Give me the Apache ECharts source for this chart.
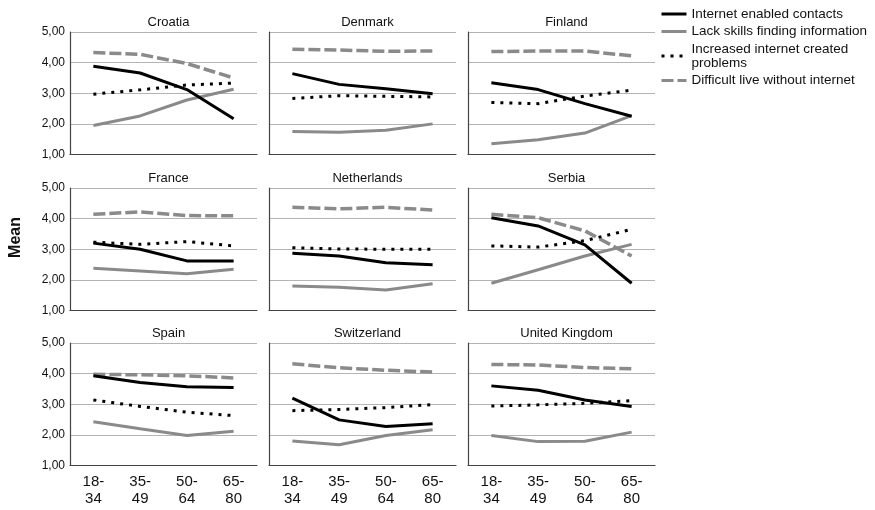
<!DOCTYPE html>
<html>
<head>
<meta charset="utf-8">
<script src="https://cdn.jsdelivr.net/npm/echarts@6/dist/echarts.min.js"></script>
<style>html,body{margin:0;padding:0;background:#fff}#c{width:875px;height:510px}</style>
</head>
<body>
<div id="c"></div>
<script>
const countries = ['Croatia','Denmark','Finland','France','Netherlands','Serbia','Spain','Switzerland','United Kingdom'];
const ageGroups = ['18-\n34','35-\n49','50-\n64','65-\n80'];
const yTicks = [1,2,3,4,5];
const seriesNames = ['Internet enabled contacts','Lack skills finding information','Increased internet created\nproblems','Difficult live without internet'];

// values per country (order as countries), per age group
const contacts = [
  [3.88,3.66,3.12,2.17],
  [3.64,3.29,3.15,2.98],
  [3.34,3.12,2.66,2.25],
  [3.20,3.00,2.62,2.62],
  [2.87,2.78,2.56,2.49],
  [4.03,3.76,3.14,1.89],
  [3.93,3.71,3.57,3.55],
  [3.20,2.49,2.27,2.36],
  [3.60,3.46,3.14,2.93]
];
const lackSkills = [
  [1.95,2.26,2.78,3.13],
  [1.75,1.73,1.79,2.00],
  [1.35,1.48,1.70,2.27],
  [2.38,2.29,2.20,2.35],
  [1.80,1.76,1.67,1.87],
  [1.89,2.33,2.78,3.16],
  [2.43,2.20,1.98,2.12],
  [1.80,1.68,1.98,2.17],
  [1.98,1.78,1.79,2.09]
];
const problems = [
  [2.97,3.11,3.27,3.33],
  [2.83,2.92,2.90,2.88],
  [2.70,2.66,2.91,3.10],
  [3.23,3.16,3.25,3.11],
  [3.05,3.01,3.00,3.00],
  [3.11,3.07,3.28,3.65],
  [3.14,2.93,2.74,2.63],
  [2.79,2.83,2.89,2.99],
  [2.94,2.98,3.03,3.12]
];
const difficult = [
  [4.33,4.27,3.97,3.50],
  [4.44,4.41,4.37,4.38],
  [4.36,4.38,4.38,4.22],
  [4.14,4.22,4.10,4.09],
  [4.37,4.32,4.37,4.28],
  [4.14,4.03,3.60,2.78],
  [3.98,3.96,3.93,3.86],
  [4.32,4.19,4.11,4.05],
  [4.30,4.28,4.20,4.16]
];

const FONT = "'Liberation Sans', Arial, sans-serif";
const colLeft = [70,269,468];
const rowTop = [32,188,343];
const W = 187, H = 122.5;
const BLACK = '#000000', GRAY = '#8a8a8a';

const styles = [
  {color:BLACK, width:3, type:'solid'},
  {color:GRAY, width:3, type:'solid'},
  {color:BLACK, width:3, type:[3,6]},
  {color:GRAY, width:3.5, type:[12,4]}
];
const dataSets = [contacts, lackSkills, problems, difficult];

const grids=[], xAxes=[], yAxes=[], titles=[], series=[];
countries.forEach((name,i)=>{
  const r = Math.floor(i/3), c = i%3;
  grids.push({left:colLeft[c], top:rowTop[r], width:W, height:H});
  titles.push({text:name, left:colLeft[c]+W/2, textAlign:'center', top:rowTop[r]-21,
    textStyle:{fontFamily:FONT, fontSize:13, fontWeight:'normal', color:'#111'}});
  xAxes.push({type:'category', gridIndex:i, data:ageGroups, boundaryGap:true,
    axisLine:{show:true, lineStyle:{color:'#444', width:1.2}},
    axisTick:{show:false},
    axisLabel:{show:r===2, fontFamily:FONT, fontSize:15, lineHeight:17, color:'#111', margin:8},
    splitLine:{show:false}});
  yAxes.push({type:'value', gridIndex:i, min:yTicks[0], max:yTicks[yTicks.length-1], interval:1,
    axisLine:{show:true, lineStyle:{color:'#444', width:1.2}},
    axisTick:{show:false},
    axisLabel:{show:c===0, fontFamily:FONT, fontSize:12, color:'#111', margin:5,
      formatter:v=>v.toFixed(2).replace('.',',')},
    splitLine:{show:true, lineStyle:{color:'#b4b4b4', width:1}}});
  dataSets.forEach((ds,k)=>{
    series.push({type:'line', name:seriesNames[k], xAxisIndex:i, yAxisIndex:i,
      data:ds[i], symbol:'none', smooth:false, silent:true, animation:false,
      lineStyle:{color:styles[k].color, width:styles[k].width, type:styles[k].type, cap:'butt'},
      itemStyle:{color:styles[k].color}, z:10-k});
  });
});

const chart = echarts.init(document.getElementById('c'), null, {renderer:'canvas'});
chart.setOption({
  animation:false,
  backgroundColor:'#fff',
  title:titles,
  grid:grids, xAxis:xAxes, yAxis:yAxes, series:series,
  legend:{orient:'vertical', left:660, top:7, padding:0, itemWidth:25, itemHeight:14, itemGap:3.5,
    selectedMode:false,
    data:seriesNames,
    itemStyle:{color:'rgba(0,0,0,0)', borderWidth:0, opacity:0},
    lineStyle:{width:3},
    textStyle:{fontFamily:FONT, fontSize:13.5, lineHeight:14, color:'#111'}},
  graphic:[{type:'text', left:8, top:217, rotation:Math.PI/2,
    style:{text:'Mean', font:"bold 16px 'Liberation Sans', Arial, sans-serif", fill:'#111'}}]
});
</script>
</body>
</html>
